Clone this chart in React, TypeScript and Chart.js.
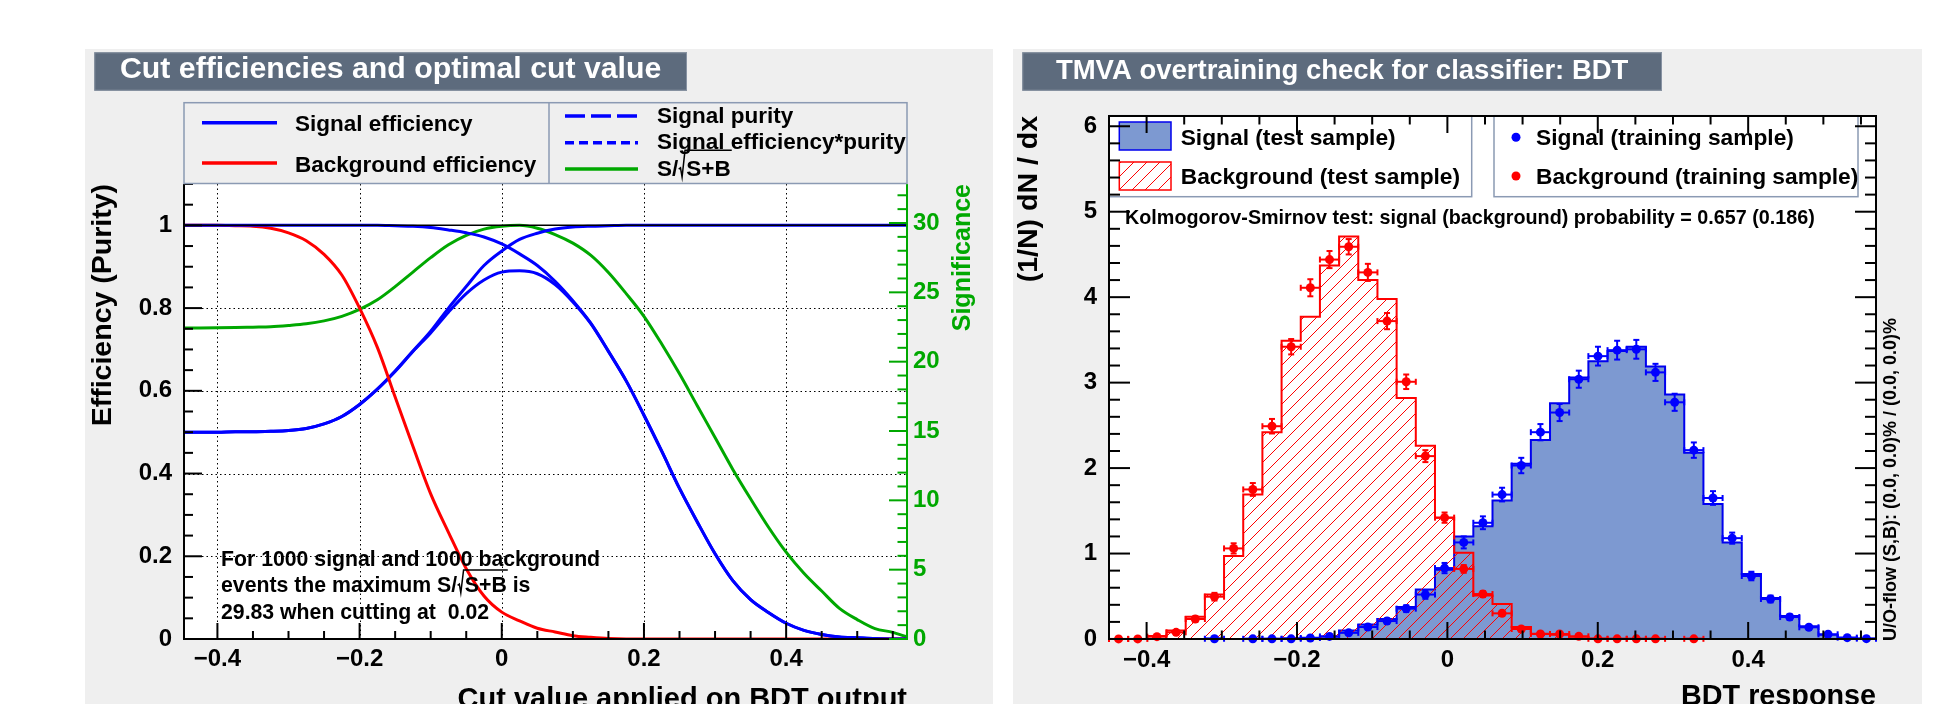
import React, { useEffect, useRef } from 'react';
import { Chart, registerables } from 'chart.js';

Chart.register(...registerables);

const FONT = '"Liberation Sans", Arial, Helvetica, sans-serif';
const PANEL_BG = '#efefef';
const TITLE_BG = '#5d6b7d';
const LEGEND_BORDER = '#8b9ab3';
const BLUE = '#0000ff';
const RED = '#ff0000';
const GREEN = '#00a800';
const SIG_FILL = '#7d99d1';
const SIG_LINE = '#0000ee';
const HATCH_STEP = 13;

// ---------------- Left panel: cut efficiencies ----------------
const LEFT_TITLE = 'Cut efficiencies and optimal cut value';
const cutValues = [
  -0.45, -0.425, -0.4, -0.375, -0.35, -0.325, -0.3, -0.275, -0.25, -0.225, -0.2, -0.175, -0.15, -0.125,
  -0.1, -0.075, -0.05, -0.025, 0, 0.025, 0.05, 0.075, 0.1, 0.125, 0.15, 0.175, 0.2, 0.225, 0.25, 0.275,
  0.3, 0.325, 0.35, 0.375, 0.4, 0.425, 0.45, 0.475, 0.5, 0.525, 0.55, 0.57,
];
const signalEfficiency = [
  1, 1, 1, 1, 1, 1, 1, 1, 1, 1, 1, 1, 0.999, 0.998,
  0.995, 0.989, 0.982, 0.972, 0.955, 0.931, 0.903, 0.865, 0.818, 0.764, 0.696, 0.624, 0.541, 0.454, 0.364, 0.283,
  0.206, 0.141, 0.095, 0.064, 0.038, 0.021, 0.011, 0.005, 0.003, 0.001, 0, 0,
];
const backgroundEfficiency = [
  1, 1, 1, 0.999, 0.998, 0.993, 0.982, 0.963, 0.93, 0.88, 0.8, 0.705, 0.585, 0.466,
  0.351, 0.258, 0.17, 0.104, 0.065, 0.044, 0.026, 0.017, 0.008, 0.004, 0.001, 0, 0, 0, 0, 0,
  0, 0, 0, 0, 0, 0, 0, 0, 0, 0, 0, 0,
];
const signalPurity = [
  0.5, 0.5, 0.5, 0.501, 0.501, 0.502, 0.504, 0.509, 0.52, 0.538, 0.567, 0.604, 0.648, 0.696,
  0.744, 0.8, 0.852, 0.903, 0.938, 0.966, 0.981, 0.991, 0.996, 0.998, 0.999, 1, 1, 1, 1, 1,
  1, 1, 1, 1, 1, 1, 1, 1, 1, 1, 1, 1,
];
const signalEffTimesPurity = [
  0.5, 0.5, 0.5, 0.501, 0.501, 0.502, 0.504, 0.509, 0.52, 0.538, 0.567, 0.604, 0.647, 0.695,
  0.74, 0.79, 0.835, 0.868, 0.887, 0.89, 0.883, 0.857, 0.815, 0.763, 0.695, 0.624, 0.541, 0.454, 0.364, 0.283,
  0.206, 0.141, 0.095, 0.064, 0.038, 0.021, 0.011, 0.005, 0.003, 0.001, 0, 0,
];
const significance = [
  22.43, 22.43, 22.44, 22.46, 22.49, 22.52, 22.61, 22.73, 22.94, 23.27, 23.77, 24.46, 25.41, 26.46,
  27.5, 28.43, 29.11, 29.56, 29.77, 29.83, 29.62, 29.17, 28.55, 27.68, 26.43, 24.91, 23.27, 21.27, 19.12, 16.82,
  14.53, 12.23, 10.11, 8.08, 6.26, 4.74, 3.46, 2.21, 1.4, 0.75, 0.48, 0.15,
];
const nSignalEvents = 1000;
const nBackgroundEvents = 1000;
const maxSignificance = 29.83;
const optimalCut = 0.02;
const cutTickValues = [-0.4, -0.2, 0, 0.2, 0.4];
const cutTickLabels = ['\u22120.4', '\u22120.2', '0', '0.2', '0.4'];
const effTickValues = [0, 0.2, 0.4, 0.6, 0.8, 1];
const effTickLabels = ['0', '0.2', '0.4', '0.6', '0.8', '1'];
const sigTickValues = [0, 5, 10, 15, 20, 25, 30];
const sigTickLabels = ['0', '5', '10', '15', '20', '25', '30'];

// ---------------- Right panel: overtraining check ----------------
const RIGHT_TITLE = 'TMVA overtraining check for classifier: BDT';
const KS_TEXT = 'Kolmogorov-Smirnov test: signal (background) probability = 0.657 (0.186)';
const UO_TEXT = 'U/O-flow (S,B): (0.0, 0.0)% / (0.0, 0.0)%';
const BIN_MIN = -0.45;
const BIN_WIDTH = 0.0255;
const N_BINS = 40;
const signalTest = [
  0, 0, 0, 0, 0, 0.005, 0, 0.004, 0.004, 0.008,
  0.016, 0.03, 0.1, 0.17, 0.235, 0.375, 0.58, 0.81, 1.2, 1.32,
  1.62, 2.05, 2.33, 2.76, 3.06, 3.25, 3.37, 3.42, 3.19, 2.86,
  2.18, 1.58, 1.13, 0.76, 0.48, 0.27, 0.15, 0.05, 0.015, 0.006,
];
const backgroundTest = [
  0, 0, 0.035, 0.1, 0.26, 0.52, 0.97, 1.69, 2.42, 3.49,
  3.77, 4.37, 4.71, 4.2, 3.98, 2.82, 2.26, 1.42, 1.01, 0.51,
  0.41, 0.14, 0.06, 0.05, 0.027, 0.005, 0.004, 0.003, 0.002, 0,
  0.002, 0, 0, 0, 0, 0, 0, 0, 0, 0,
];
const signalTrain = [
  null, null, null, null, null, 0.003, null, 0.002, 0.002, 0.002,
  0.012, 0.03, 0.072, 0.14, 0.21, 0.355, 0.52, 0.83, 1.13, 1.36,
  1.69, 2.03, 2.42, 2.65, 3.04, 3.31, 3.38, 3.39, 3.12, 2.77,
  2.21, 1.65, 1.18, 0.737, 0.468, 0.257, 0.137, 0.055, 0.016, 0.004,
];
const signalTrainErr = [
  null, null, null, null, null, 0.003, null, 0.003, 0.003, 0.003,
  0.008, 0.012, 0.02, 0.025, 0.03, 0.04, 0.05, 0.06, 0.07, 0.075,
  0.08, 0.09, 0.095, 0.1, 0.1, 0.11, 0.11, 0.11, 0.1, 0.1,
  0.09, 0.08, 0.065, 0.05, 0.04, 0.03, 0.02, 0.015, 0.008, 0.004,
];
const backgroundTrain = [
  0.001, 0.001, 0.027, 0.078, 0.234, 0.495, 1.06, 1.75, 2.49, 3.42,
  4.11, 4.44, 4.59, 4.29, 3.72, 3.01, 2.14, 1.42, 0.82, 0.526,
  0.3, 0.117, 0.058, 0.058, 0.031, 0.002, 0.002, 0.002, 0.002, null,
  0.002, null, null, null, null, null, null, null, null, null,
];
const backgroundTrainErr = [
  0.003, 0.003, 0.01, 0.017, 0.03, 0.045, 0.06, 0.075, 0.085, 0.09,
  0.1, 0.1, 0.09, 0.1, 0.095, 0.085, 0.07, 0.06, 0.045, 0.035,
  0.03, 0.02, 0.015, 0.015, 0.01, 0.003, 0.003, 0.003, 0.003, null,
  0.003, null, null, null, null, null, null, null, null, null,
];
const respTickValues = [-0.4, -0.2, 0, 0.2, 0.4];
const respTickLabels = ['\u22120.4', '\u22120.2', '0', '0.2', '0.4'];
const densTickValues = [0, 1, 2, 3, 4, 5, 6];
const densTickLabels = ['0', '1', '2', '3', '4', '5', '6'];

// ---------------- helpers ----------------
function setFont(ctx: any, size: number) {
  ctx.font = `bold ${size}px ${FONT}`;
}
function fitFont(ctx: any, text: string, target: number) {
  setFont(ctx, 100);
  const w = ctx.measureText(text).width;
  return Math.round((target / w) * 100 * 4) / 4;
}
function seg(ctx: any, x1: number, y1: number, x2: number, y2: number) {
  ctx.beginPath();
  ctx.moveTo(x1, y1);
  ctx.lineTo(x2, y2);
  ctx.stroke();
}
function rotText(ctx: any, text: string, x: number, y: number, align: string) {
  ctx.save();
  ctx.translate(x, y);
  ctx.rotate(-Math.PI / 2);
  ctx.textAlign = align;
  ctx.textBaseline = 'alphabetic';
  ctx.fillText(text, 0, 0);
  ctx.restore();
}
function drawTitleBox(ctx: any, x: number, y: number, w: number, h: number, text: string, target: number, base: number) {
  ctx.fillStyle = TITLE_BG;
  ctx.fillRect(x, y, w, h);
  ctx.strokeStyle = '#8792a2';
  ctx.lineWidth = 1;
  ctx.strokeRect(x + 0.5, y + 0.5, w - 1, h - 1);
  setFont(ctx, fitFont(ctx, text, target));
  ctx.fillStyle = '#ffffff';
  ctx.textAlign = 'center';
  ctx.textBaseline = 'alphabetic';
  ctx.fillText(text, x + w / 2, base);
}
// text of the form  pre + "S/" + sqrt(S+B) + post ; y = alphabetic baseline
function drawSqrtText(ctx: any, x: number, y: number, pre: string, post: string, size: number, barUp: number) {
  setFont(ctx, size);
  ctx.textAlign = 'left';
  ctx.textBaseline = 'alphabetic';
  const head = pre + 'S/';
  ctx.fillText(head, x, y);
  const cx = x + ctx.measureText(head).width;
  const inner = 'S+B';
  const innerX = cx + size * 0.36;
  const innerW = ctx.measureText(inner).width;
  const top = y - size * barUp;
  ctx.save();
  ctx.strokeStyle = ctx.fillStyle;
  ctx.lineWidth = 1.5;
  ctx.beginPath();
  ctx.moveTo(cx + size * 0.02, y - size * 0.32);
  ctx.lineTo(cx + size * 0.1, y - size * 0.38);
  ctx.lineTo(cx + size * 0.17, y + size * 0.03);
  ctx.lineTo(cx + size * 0.3, top);
  ctx.lineTo(innerX + innerW + 1, top);
  ctx.stroke();
  ctx.restore();
  ctx.fillText(inner, innerX, y);
  if (post) ctx.fillText(post, innerX + innerW, y);
}

// ---------------- left chart plugin ----------------
const leftDecor = {
  id: 'leftDecor',
  beforeDraw(chart: any) {
    const { ctx, width, height, chartArea: a } = chart;
    ctx.save();
    ctx.fillStyle = PANEL_BG;
    ctx.fillRect(0, 0, width, height);
    drawTitleBox(ctx, 9.3, 3.3, 592.7, 38.4, LEFT_TITLE, 543, 29.3);
    ctx.fillStyle = '#ffffff';
    ctx.fillRect(a.left, a.top, a.right - a.left, a.bottom - a.top);
    ctx.restore();
  },
  beforeDatasetsDraw(chart: any) {
    const { ctx, chartArea: a, scales } = chart;
    ctx.save();
    ctx.strokeStyle = '#000';
    ctx.lineWidth = 1;
    ctx.setLineDash([1.5, 3]);
    cutTickValues.forEach((v) => {
      const px = Math.round(scales.x.getPixelForValue(v)) + 0.5;
      seg(ctx, px, a.top, px, a.bottom);
    });
    effTickValues.forEach((v) => {
      if (v === 0) return;
      const py = Math.round(scales.y.getPixelForValue(v)) + 0.5;
      seg(ctx, a.left, py, a.right, py);
    });
    ctx.restore();
  },
  afterDatasetsDraw(chart: any) {
    const { ctx, chartArea: a, scales, data } = chart;
    const { x, y, y2 } = scales;
    ctx.save();
    // reference line at efficiency 1
    ctx.strokeStyle = '#000';
    ctx.lineWidth = 1.5;
    seg(ctx, a.left, y.getPixelForValue(1), a.right, y.getPixelForValue(1));
    // axes
    ctx.lineWidth = 2;
    seg(ctx, a.left, a.top, a.left, a.bottom + 1);
    seg(ctx, a.left, a.bottom, a.right, a.bottom);
    // ticks
    for (let k = -9; k <= 12; k++) {
      const v = k * 0.05;
      if (v < x.min - 1e-9 || v > x.max + 1e-9) continue;
      const major = k % 4 === 0;
      const px = x.getPixelForValue(v);
      seg(ctx, px, a.bottom, px, a.bottom - (major ? 16 : 8));
    }
    for (let k = 0; k <= 22; k++) {
      const v = k * 0.05;
      const py = y.getPixelForValue(v);
      seg(ctx, a.left, py, a.left + (k % 4 === 0 ? 18 : 9), py);
    }
    ctx.strokeStyle = GREEN;
    seg(ctx, a.right, a.top, a.right, a.bottom + 1);
    for (let k = 0; k <= 32; k++) {
      const py = y2.getPixelForValue(k);
      seg(ctx, a.right, py, a.right - (k % 5 === 0 ? 18 : 9.5), py);
    }

    // legend
    const lt = 53.7;
    const lb = a.top - 0.5;
    ctx.fillStyle = PANEL_BG;
    ctx.fillRect(a.left, lt, a.right - a.left, lb - lt);
    ctx.strokeStyle = LEGEND_BORDER;
    ctx.lineWidth = 1.5;
    ctx.strokeRect(a.left, lt, a.right - a.left, lb - lt);
    seg(ctx, 464, lt, 464, lb);
    const fs = fitFont(ctx, data.datasets[0].label, 178);
    const entries = [
      { d: 0, x1: 117, x2: 192, ly: 73.7, tx: 210, ty: 74, dash: [] },
      { d: 1, x1: 117, x2: 192, ly: 114, tx: 210, ty: 114.7, dash: [] },
      { d: 2, x1: 480, x2: 553, ly: 67, tx: 572, ty: 66, dash: [20, 6] },
      { d: 3, x1: 480, x2: 553, ly: 93.7, tx: 572, ty: 92, dash: [9, 5] },
      { d: 4, x1: 480, x2: 553, ly: 120, tx: 572, ty: 119.3, dash: [] },
    ];
    entries.forEach((e) => {
      const ds = data.datasets[e.d];
      ctx.strokeStyle = ds.borderColor;
      ctx.lineWidth = 3.5;
      ctx.setLineDash(e.dash);
      seg(ctx, e.x1, e.ly, e.x2, e.ly);
      ctx.setLineDash([]);
      ctx.fillStyle = '#000';
      setFont(ctx, fs);
      ctx.textAlign = 'left';
      ctx.textBaseline = 'alphabetic';
      const base = e.ty + 0.36 * fs;
      if (e.d === 4) drawSqrtText(ctx, e.tx, base, '', '', fs, 1.16);
      else ctx.fillText(ds.label, e.tx, base);
    });

    // annotation
    const line1 = `For ${nSignalEvents} signal and ${nBackgroundEvents} background`;
    const line3 = `${maxSignificance.toFixed(2)} when cutting at  ${optimalCut.toFixed(2)}`;
    const fa = fitFont(ctx, line1, 380);
    ctx.fillStyle = '#000';
    setFont(ctx, fa);
    ctx.textAlign = 'left';
    ctx.textBaseline = 'alphabetic';
    ctx.fillText(line1, 136, 509 + 0.36 * fa);
    drawSqrtText(ctx, 136, 535.6 + 0.36 * fa, 'events the maximum ', ' is', fa, 1.05);
    setFont(ctx, fa);
    ctx.fillText(line3, 136, 562 + 0.36 * fa);

    // axis titles
    ctx.fillStyle = '#000';
    const yt = 'Efficiency (Purity)';
    setFont(ctx, fitFont(ctx, yt, 242));
    rotText(ctx, yt, 25.7, a.top, 'right');
    const y2t = 'Significance';
    setFont(ctx, fitFont(ctx, y2t, 148));
    ctx.fillStyle = GREEN;
    rotText(ctx, y2t, 885, a.top, 'right');
    const xt = 'Cut value applied on BDT output';
    setFont(ctx, fitFont(ctx, xt, 450));
    ctx.fillStyle = '#000';
    ctx.textAlign = 'right';
    ctx.textBaseline = 'alphabetic';
    ctx.fillText(xt, a.right, 658.8);
    ctx.restore();
  },
};

// ---------------- right chart plugins ----------------
const errorBars = {
  id: 'errorBars',
  afterDatasetsDraw(chart: any) {
    const { ctx, scales } = chart;
    const { x, y } = scales;
    chart.data.datasets.forEach((ds: any, di: number) => {
      if (!ds.errorBars) return;
      const meta = chart.getDatasetMeta(di);
      ctx.save();
      ctx.strokeStyle = ds.pointBackgroundColor;
      ctx.lineWidth = 2;
      meta.data.forEach((pt: any, i: number) => {
        const raw = ds.data[i];
        const py = pt.y;
        const xl = x.getPixelForValue(raw.x - BIN_WIDTH / 2);
        const xr = x.getPixelForValue(raw.x + BIN_WIDTH / 2);
        seg(ctx, xl, py, xr, py);
        seg(ctx, xl, py - 3, xl, py + 3);
        seg(ctx, xr, py - 3, xr, py + 3);
        const yt = y.getPixelForValue(raw.y + raw.e);
        const yb = y.getPixelForValue(Math.max(0, raw.y - raw.e));
        if (yb - yt > 2) {
          seg(ctx, pt.x, yt, pt.x, yb);
          seg(ctx, pt.x - 3, yt, pt.x + 3, yt);
          seg(ctx, pt.x - 3, yb, pt.x + 3, yb);
        }
      });
      ctx.restore();
    });
  },
};

const rightDecor = {
  id: 'rightDecor',
  beforeDraw(chart: any) {
    const { ctx, width, height, chartArea: a } = chart;
    ctx.save();
    ctx.fillStyle = PANEL_BG;
    ctx.fillRect(0, 0, width, height);
    drawTitleBox(ctx, 9.3, 3.3, 639.7, 38.4, RIGHT_TITLE, 571, 30.3);
    ctx.fillStyle = '#ffffff';
    ctx.fillRect(a.left, a.top, a.right - a.left, a.bottom - a.top);
    ctx.restore();
  },
  afterDatasetsDraw(chart: any) {
    const { ctx, chartArea: a, scales, data } = chart;
    const { x, y } = scales;
    const ds = data.datasets;
    ctx.save();
    // legends
    const lt = 66.7;
    const lh = 81;
    ctx.lineWidth = 1.5;
    ctx.fillStyle = '#ffffff';
    ctx.fillRect(96, lt, 362.7, lh);
    ctx.fillRect(481, lt, 364, lh);
    ctx.strokeStyle = LEGEND_BORDER;
    ctx.strokeRect(96, lt, 362.7, lh);
    ctx.strokeRect(481, lt, 364, lh);
    // swatches
    ctx.fillStyle = ds[0].backgroundColor;
    ctx.fillRect(106.3, 73, 51.7, 28);
    ctx.strokeStyle = ds[0].borderColor;
    ctx.strokeRect(106.3, 73, 51.7, 28);
    ctx.fillStyle = ds[1].backgroundColor;
    ctx.fillRect(106.3, 113, 51.7, 28);
    ctx.strokeStyle = ds[1].borderColor;
    ctx.strokeRect(106.3, 113, 51.7, 28);
    ctx.fillStyle = ds[2].pointBackgroundColor;
    ctx.beginPath();
    ctx.arc(503, 88.3, 4.5, 0, Math.PI * 2);
    ctx.fill();
    ctx.fillStyle = ds[3].pointBackgroundColor;
    ctx.beginPath();
    ctx.arc(503, 127, 4.5, 0, Math.PI * 2);
    ctx.fill();
    const fs = fitFont(ctx, ds[0].label, 214);
    setFont(ctx, fs);
    ctx.fillStyle = '#000';
    ctx.textAlign = 'left';
    ctx.textBaseline = 'alphabetic';
    ctx.fillText(ds[0].label, 167.7, 88.3 + 0.36 * fs);
    ctx.fillText(ds[1].label, 167.7, 127 + 0.36 * fs);
    ctx.fillText(ds[2].label, 523, 88.3 + 0.36 * fs);
    ctx.fillText(ds[3].label, 523, 127 + 0.36 * fs);
    // KS text
    const fk = fitFont(ctx, KS_TEXT, 687);
    setFont(ctx, fk);
    ctx.fillText(KS_TEXT, 112, 167.7 + 0.36 * fk);

    // frame & ticks
    ctx.strokeStyle = '#000';
    ctx.lineWidth = 2;
    ctx.strokeRect(a.left, a.top, a.right - a.left, a.bottom - a.top);
    for (let k = -9; k <= 12; k++) {
      const v = k * 0.05;
      if (v < x.min - 1e-9 || v > x.max + 1e-9) continue;
      const len = k % 4 === 0 ? 17 : 8.5;
      const px = x.getPixelForValue(v);
      seg(ctx, px, a.bottom, px, a.bottom - len);
      seg(ctx, px, a.top, px, a.top + len);
    }
    for (let k = 0; k <= 30; k++) {
      const v = k * 0.2;
      if (v > y.max) continue;
      const len = k % 5 === 0 ? 21 : 11;
      const py = y.getPixelForValue(v);
      seg(ctx, a.left, py, a.left + len, py);
      seg(ctx, a.right, py, a.right - len, py);
    }

    // titles
    ctx.fillStyle = '#000';
    const yt = '(1/N) dN / dx';
    setFont(ctx, fitFont(ctx, yt, 166));
    rotText(ctx, yt, 24.4, a.top, 'right');
    const xt = 'BDT response';
    setFont(ctx, fitFont(ctx, xt, 195));
    ctx.textAlign = 'right';
    ctx.fillText(xt, a.right, 656.4);
    setFont(ctx, fitFont(ctx, UO_TEXT, 325));
    rotText(ctx, UO_TEXT, 883, 592, 'left');
    ctx.restore();
  },
};

function makeHatch() {
  const n = HATCH_STEP;
  const c = document.createElement('canvas');
  c.width = n;
  c.height = n;
  const g = c.getContext('2d') as CanvasRenderingContext2D;
  g.strokeStyle = RED;
  g.lineWidth = 1;
  g.beginPath();
  g.moveTo(-1, n + 1);
  g.lineTo(n + 1, -1);
  g.stroke();
  return g.createPattern(c, 'repeat');
}

const tickFont = { family: FONT, size: 24, weight: 'bold' as const, lineHeight: 1 };

function leftConfig(): any {
  const line = (label: string, ys: number[], color: string, axis = 'y') => ({
    label,
    data: cutValues.map((xv, i) => ({ x: xv, y: ys[i] })),
    borderColor: color,
    backgroundColor: color,
    borderWidth: 3,
    pointRadius: 0,
    cubicInterpolationMode: 'monotone',
    fill: false,
    yAxisID: axis,
  });
  return {
    type: 'line',
    data: {
      datasets: [
        line('Signal efficiency', signalEfficiency, BLUE),
        line('Background efficiency', backgroundEfficiency, RED),
        line('Signal purity', signalPurity, BLUE),
        line('Signal efficiency*purity', signalEffTimesPurity, BLUE),
        line('S/\u221AS+B', significance, GREEN, 'y2'),
      ],
    },
    options: {
      responsive: false,
      animation: false,
      events: [],
      layout: { autoPadding: false, padding: { top: 135, left: 0, right: 0, bottom: 0 } },
      plugins: { legend: { display: false }, title: { display: false }, tooltip: { enabled: false } },
      scales: {
        x: {
          type: 'linear',
          min: -0.447,
          max: 0.57,
          grid: { display: false, drawTicks: false },
          border: { display: false },
          afterBuildTicks: (s: any) => { s.ticks = cutTickValues.map((v) => ({ value: v })); },
          afterFit: (s: any) => { s.height = 65; },
          ticks: {
            font: tickFont, color: '#000', padding: 8, maxRotation: 0, autoSkip: false,
            callback: (_v: any, i: number) => cutTickLabels[i],
          },
        },
        y: {
          type: 'linear',
          position: 'left',
          min: 0,
          max: 1.1,
          grid: { display: false, drawTicks: false },
          border: { display: false },
          afterBuildTicks: (s: any) => { s.ticks = effTickValues.map((v) => ({ value: v })); },
          afterFit: (s: any) => { s.width = 99; },
          ticks: { font: tickFont, color: '#000', padding: 12, callback: (_v: any, i: number) => effTickLabels[i] },
        },
        y2: {
          type: 'linear',
          position: 'right',
          min: 0,
          max: maxSignificance * 1.1,
          grid: { display: false, drawTicks: false },
          border: { display: false },
          afterBuildTicks: (s: any) => { s.ticks = sigTickValues.map((v) => ({ value: v })); },
          afterFit: (s: any) => { s.width = 86; },
          ticks: { font: tickFont, color: GREEN, padding: 6, callback: (_v: any, i: number) => sigTickLabels[i] },
        },
      },
    },
    plugins: [leftDecor],
  };
}

function rightConfig(): any {
  const edges = Array.from({ length: N_BINS + 1 }, (_, i) => BIN_MIN + i * BIN_WIDTH);
  const centers = Array.from({ length: N_BINS }, (_, i) => BIN_MIN + (i + 0.5) * BIN_WIDTH);
  const hist = (vals: number[]) => edges.map((xv, i) => ({ x: xv, y: vals[Math.min(i, N_BINS - 1)] }));
  const pts = (vals: any[], errs: any[]) =>
    centers.map((xv, i) => ({ x: xv, y: vals[i], e: errs[i] })).filter((p) => p.y !== null);
  return {
    type: 'line',
    data: {
      datasets: [
        {
          label: 'Signal (test sample)',
          data: hist(signalTest),
          stepped: true,
          borderColor: SIG_LINE,
          backgroundColor: SIG_FILL,
          borderWidth: 2,
          fill: 'origin',
          pointRadius: 0,
          order: 4,
        },
        {
          label: 'Background (test sample)',
          data: hist(backgroundTest),
          stepped: true,
          borderColor: RED,
          backgroundColor: makeHatch(),
          borderWidth: 2,
          fill: 'origin',
          pointRadius: 0,
          order: 3,
        },
        {
          label: 'Signal (training sample)',
          data: pts(signalTrain, signalTrainErr),
          showLine: false,
          pointRadius: 4.5,
          pointBackgroundColor: BLUE,
          pointBorderColor: BLUE,
          pointBorderWidth: 0,
          clip: false,
          errorBars: true,
          order: 2,
        },
        {
          label: 'Background (training sample)',
          data: pts(backgroundTrain, backgroundTrainErr),
          showLine: false,
          pointRadius: 4.5,
          pointBackgroundColor: RED,
          pointBorderColor: RED,
          pointBorderWidth: 0,
          clip: false,
          errorBars: true,
          order: 1,
        },
      ],
    },
    options: {
      responsive: false,
      animation: false,
      events: [],
      layout: { autoPadding: false, padding: { top: 67, left: 0, right: 46, bottom: 0 } },
      plugins: { legend: { display: false }, title: { display: false }, tooltip: { enabled: false } },
      scales: {
        x: {
          type: 'linear',
          min: BIN_MIN,
          max: BIN_MIN + N_BINS * BIN_WIDTH,
          grid: { display: false, drawTicks: false },
          border: { display: false },
          afterBuildTicks: (s: any) => { s.ticks = respTickValues.map((v) => ({ value: v })); },
          afterFit: (s: any) => { s.height = 65; },
          ticks: {
            font: tickFont, color: '#000', padding: 9, maxRotation: 0, autoSkip: false,
            callback: (_v: any, i: number) => respTickLabels[i],
          },
        },
        y: {
          type: 'linear',
          min: 0,
          max: 6.12,
          grid: { display: false, drawTicks: false },
          border: { display: false },
          afterBuildTicks: (s: any) => { s.ticks = densTickValues.map((v) => ({ value: v })); },
          afterFit: (s: any) => { s.width = 96; },
          ticks: { font: tickFont, color: '#000', padding: 12, callback: (_v: any, i: number) => densTickLabels[i] },
        },
      },
    },
    plugins: [errorBars, rightDecor],
  };
}

export default function App() {
  const leftRef = useRef<HTMLCanvasElement>(null);
  const rightRef = useRef<HTMLCanvasElement>(null);
  useEffect(() => {
    document.body.style.margin = '0';
    document.body.style.overflow = 'hidden';
    const c1 = new Chart(leftRef.current as HTMLCanvasElement, leftConfig());
    const c2 = new Chart(rightRef.current as HTMLCanvasElement, rightConfig());
    return () => {
      c1.destroy();
      c2.destroy();
    };
  }, []);
  return (
    <div style={{ position: 'absolute', left: 0, top: 0, width: 1945, height: 704, background: '#ffffff', overflow: 'hidden' }}>
      <canvas ref={leftRef} width={908} height={655} style={{ position: 'absolute', left: 85, top: 49, width: 908, height: 655 }} />
      <canvas ref={rightRef} width={909} height={655} style={{ position: 'absolute', left: 1013, top: 49, width: 909, height: 655 }} />
    </div>
  );
}
